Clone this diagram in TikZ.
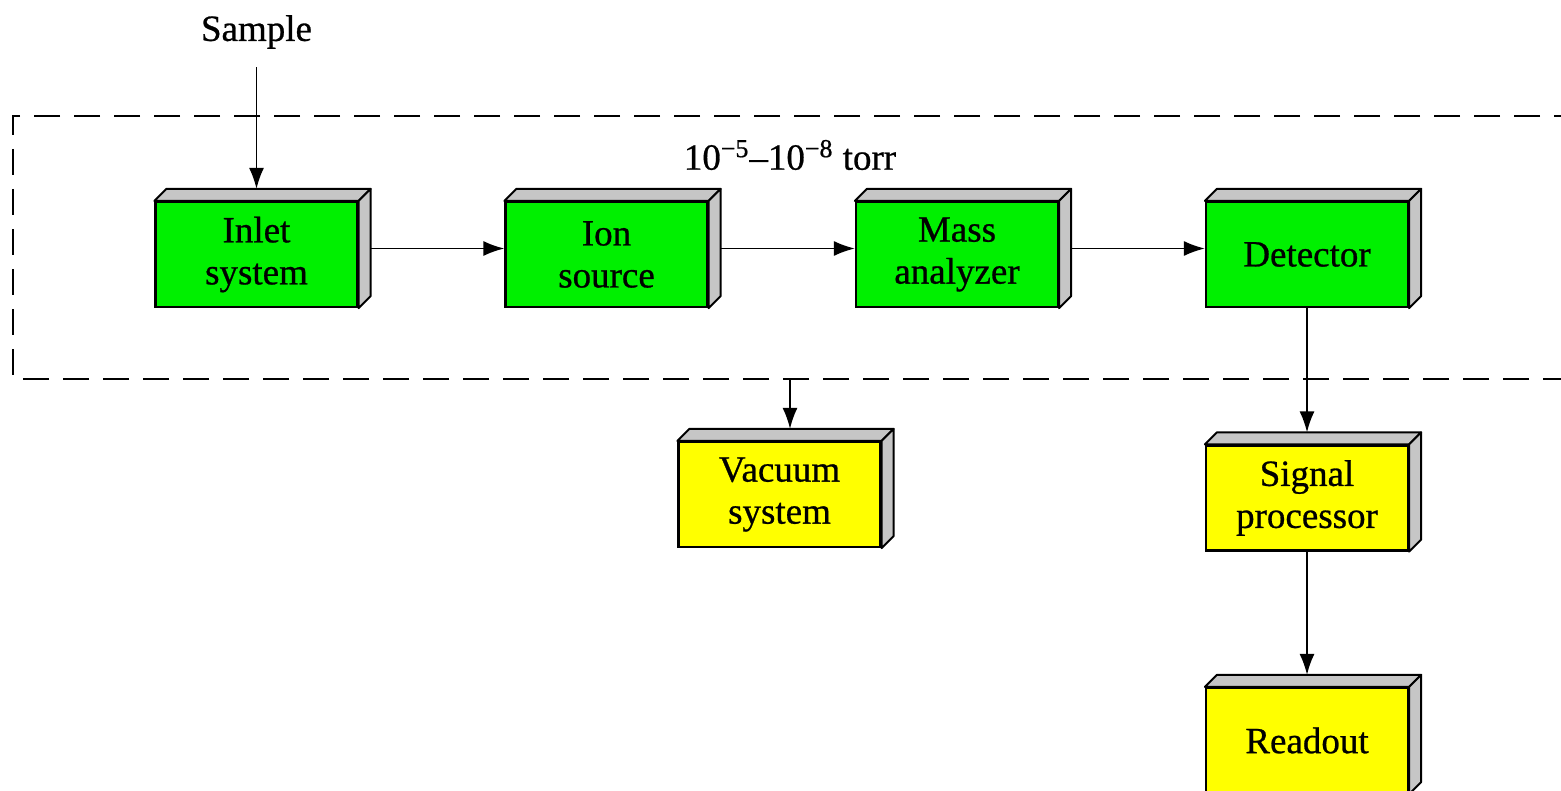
\documentclass[tikz,border=0pt]{standalone}
\usepackage{fontspec}
\setmainfont{Liberation Serif}
\newfontfamily\labelfont{Liberation Serif}[FakeBold=0.7]
\usetikzlibrary{arrows.meta,calc}
\definecolor{boxgreen}{RGB}{0,240,0}
\definecolor{boxyellow}{RGB}{255,255,0}
\tikzset{
  block/.style={draw=black, line width=1.1pt, minimum width=101pt, minimum height=52.5pt,
    inner sep=0pt, align=center, font=\fontsize{18.5}{21}\labelfont},
  greenblock/.style={block, fill=boxgreen},
  yellowblock/.style={block, fill=boxyellow},
  face/.style={fill=gray!45, draw=black, line width=1pt, line join=round},
  flow/.style={line width=0.9pt, -{Latex[length=10.5pt,width=7.5pt]}},
  vacline/.style={line width=1.3pt, dash pattern=on 13pt off 7pt},
  lbl/.style={inner sep=0pt, font=\fontsize{18.5}{21}\labelfont}
}
% top and side faces that give each block its depth
\newcommand{\blockfaces}[1]{%
  \filldraw[face] (#1.north west) -- ++(12,-12) -- ([shift={(12,-12)}]#1.north east)
    -- (#1.north east) -- cycle;
  \filldraw[face] (#1.north east) -- ++(12,-12) -- ([shift={(12,-12)}]#1.south east)
    -- (#1.south east) -- cycle;}
\begin{document}
\begin{tikzpicture}[x=0.5pt, y=-0.5pt]
  \useasboundingbox (0,0) rectangle (1561,791);
  \clip (0,0) rectangle (1561,791);
  \fill[white] (0,0) rectangle (1561,791);

  % vacuum enclosure
  \draw[vacline] (1620,116) -- (13,116) -- (13,379) -- (1620,379);
  \node[lbl] (torr) at (790,155) {10\textsuperscript{−5}–10\textsuperscript{−8} torr};

  % blocks
  \node[greenblock] (inlet) at (256.5,254.5) {Inlet\\system};
  \node[greenblock] (ion) at (606.5,254.5) {Ion\\source};
  \node[greenblock] (mass) at (957,254.5) {Mass\\analyzer};
  \node[greenblock] (detector) at (1307,254.5) {Detector};
  \node[yellowblock] (vacuum) at (779.5,494.5) {Vacuum\\system};
  \node[yellowblock] (signal) at (1307,498) {Signal\\processor};
  \node[yellowblock] (readout) at (1307,740.5) {Readout};
  \foreach \b in {inlet,ion,mass,detector,vacuum,signal,readout}{\blockfaces{\b}}

  \node[lbl] (sample) at (256.5,32) {Sample};

  % connectors
  \draw[flow] (sample.south) ++(0,18) -- ([yshift=6pt]inlet.north);
  \draw[flow] ([shift={(12,-6)}]inlet.east) -- ([yshift=3pt]ion.west);
  \draw[flow] ([shift={(12,-6)}]ion.east) -- ([yshift=3pt]mass.west);
  \draw[flow] ([shift={(12,-6)}]mass.east) -- ([yshift=3pt]detector.west);
  \coordinate (vtap) at (790,379);
  \draw[flow] (vtap) -- ($(vtap |- vacuum.north)+(0,-12)$);
  \draw[flow] (detector.south) -- ([yshift=6pt]signal.north);
  \draw[flow] (signal.south) -- ([yshift=6pt]readout.north);
\end{tikzpicture}
\end{document}
